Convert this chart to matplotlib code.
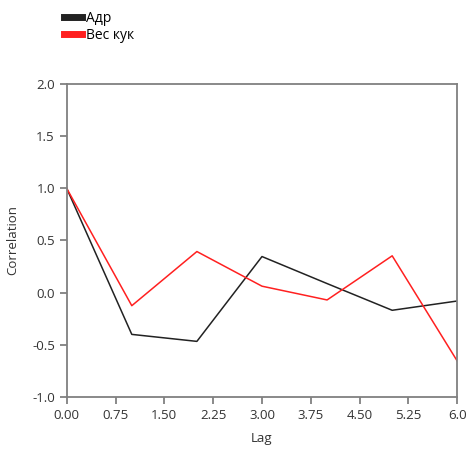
import matplotlib.pyplot as plt

plt.rcParams['font.family'] = ['Open Sans', 'DejaVu Sans']

lags = [0, 1, 2, 3, 4, 5, 6]
adr = [1.0, -0.40, -0.467, 0.346, 0.087, -0.169, -0.08]
ves_kuk = [1.0, -0.125, 0.394, 0.062, -0.07, 0.353, -0.656]

xticks = [0, 0.75, 1.5, 2.25, 3.0, 3.75, 4.5, 5.25, 6.0]
xtick_labels = ['0.00', '0.75', '1.50', '2.25', '3.00', '3.75', '4.50', '5.25', '6.0']
yticks = [-1.0, -0.5, 0.0, 0.5, 1.0, 1.5, 2.0]

fig = plt.figure(figsize=(4.67, 4.5), dpi=100)
ax = fig.add_axes([0.1428, 0.1178, 0.8364, 0.6956])

ax.plot(lags, adr, color='#222222', lw=1.1, label='Адр')
ax.plot(lags, ves_kuk, color='#ff2020', lw=1.1, label='Вес кук')

ax.set_xlim(0, 6)
ax.set_ylim(-1, 2)
ax.set_xticks(xticks)
ax.set_xticklabels(xtick_labels)
ax.set_yticks(yticks)
ax.set_yticklabels(['%.1f' % v for v in yticks])

for s in ax.spines.values():
    s.set_color('#808080')
    s.set_linewidth(1.3)
ax.tick_params(colors='#808080', labelcolor='#333333', labelsize=9.5, length=5, width=1.3)

ax.set_xlabel('Lag', fontsize=9.5, color='#333333', labelpad=7)
ax.set_ylabel('Correlation', fontsize=9.5, color='#333333', labelpad=9)

leg = fig.legend(loc='upper left', bbox_to_anchor=(0.12, 0.995), frameon=False,
                 fontsize=10, handlelength=1.3, handletextpad=0.25,
                 labelspacing=0.15, borderaxespad=0.2)
for h in leg.get_lines():
    h.set_linewidth(5)

fig.savefig('out.png', dpi=100)
